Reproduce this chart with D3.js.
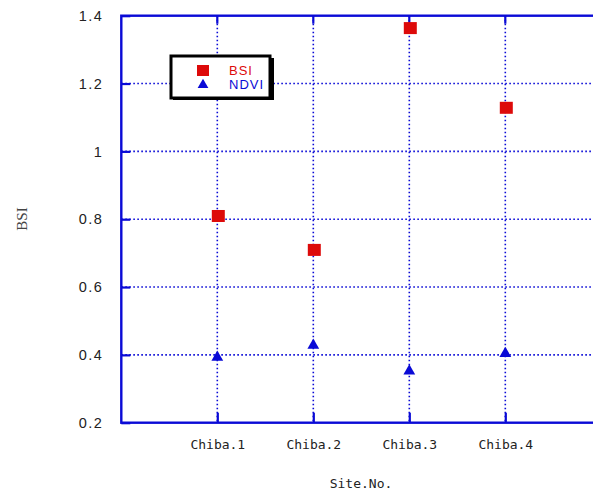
<!DOCTYPE html>
<html><head><meta charset="utf-8">
<script src="https://cdn.jsdelivr.net/npm/d3@7"></script>
<style>body{margin:0;background:#fff}svg{display:block}</style>
</head><body>
<svg id="c" width="593" height="493"></svg>
<script>
const categories = ["Chiba.1","Chiba.2","Chiba.3","Chiba.4"];
const bsiValues  = [0.808, 0.708, 1.362, 1.127];
const ndviValues = [0.393, 0.428, 0.352, 0.404];
const yTicks = [0.2,0.4,0.6,0.8,1,1.2,1.4];
const seriesNames = ["BSI","NDVI"];

const svg = d3.select("#c");
const L=121.3, T=15.7, B=422.7, step=96;
const x = d3.scaleLinear().domain([0,5]).range([L, L+5*step]);
const y = d3.scaleLinear().domain([0.2,1.4]).range([B, T]);
const blue = "#0a0ad6", red = "#dd0a0a";

// grid
const g = svg.append("g");
g.selectAll(".gy").data(yTicks.slice(1,-1)).join("line")
  .attr("x1",L).attr("x2",593).attr("y1",d=>y(d)).attr("y2",d=>y(d))
  .attr("stroke",blue).attr("stroke-width",1.6).attr("stroke-dasharray","1.6,2.4");
g.selectAll(".gx").data(categories).join("line")
  .attr("x1",(d,i)=>x(i+1)).attr("x2",(d,i)=>x(i+1)).attr("y1",T).attr("y2",B)
  .attr("stroke",blue).attr("stroke-width",1.6).attr("stroke-dasharray","1.6,2.4");

// axes
const yAxis = d3.axisLeft(y).tickValues(yTicks).tickSize(-9).tickPadding(14)
  .tickFormat(d=>d===1?"1":d3.format(".1f")(d));
const ya = svg.append("g").attr("transform",`translate(${L},0)`).call(yAxis);
ya.select(".domain").remove();
ya.selectAll(".tick line").attr("stroke",blue).attr("stroke-width",2.2);
ya.selectAll(".tick text").attr("font-family","Liberation Sans, Arial, sans-serif")
  .attr("font-size",14.5).attr("fill","#222").attr("letter-spacing","1.5px").attr("dx",-4);

const xAxis = d3.axisBottom(x).tickValues([1,2,3,4]).tickSize(-10).tickPadding(10)
  .tickFormat(d=>categories[d-1]);
const xa = svg.append("g").attr("transform",`translate(0,${B})`).call(xAxis);
xa.select(".domain").remove();
xa.selectAll(".tick line").attr("stroke",blue).attr("stroke-width",2.2);
xa.selectAll(".tick text").attr("font-family","DejaVu Sans Mono, monospace")
  .attr("font-size",13).attr("fill","#222").attr("dy","1.25em");

// top ticks
svg.selectAll(".tt").data([1,2,3,4]).join("line")
  .attr("x1",d=>x(d)).attr("x2",d=>x(d)).attr("y1",T).attr("y2",T+8)
  .attr("stroke",blue).attr("stroke-width",2.2);

// frame
svg.append("rect").attr("x",L).attr("y",T).attr("width",5*step).attr("height",B-T)
  .attr("fill","none").attr("stroke",blue).attr("stroke-width",2.4);

// markers
const sq=13;
svg.selectAll(".bsi").data(bsiValues).join("rect")
  .attr("x",(d,i)=>x(i+1)-sq/2+1).attr("y",d=>y(d)-sq/2).attr("width",sq).attr("height",sq-1)
  .attr("fill",red);
const tri = d3.symbol().type(d3.symbolTriangle).size(60);
svg.selectAll(".ndvi").data(ndviValues).join("path")
  .attr("d",tri).attr("transform",(d,i)=>`translate(${x(i+1)},${y(d)})`).attr("fill",blue);

// legend
const lg = svg.append("g");
lg.append("rect").attr("x",173).attr("y",58).attr("width",101).attr("height",42).attr("fill","#000");
lg.append("rect").attr("x",171).attr("y",56).attr("width",99).attr("height",42)
  .attr("fill","#fff").attr("stroke","#000").attr("stroke-width",3);
lg.append("rect").attr("x",197).attr("y",65).attr("width",12).attr("height",11).attr("fill",red);
lg.append("path").attr("d",d3.symbol().type(d3.symbolTriangle).size(50))
  .attr("transform","translate(203,85)").attr("fill",blue);
lg.selectAll("text").data(seriesNames).join("text")
  .attr("x",229).attr("y",(d,i)=>75+i*14).text(d=>d)
  .attr("font-family","Liberation Sans, Arial, sans-serif").attr("font-size",13)
  .attr("letter-spacing","1px")
  .attr("fill",(d,i)=>i===0?red:blue);

// axis titles
svg.append("text").attr("x",361).attr("y",488).attr("text-anchor","middle")
  .attr("font-family","DejaVu Sans Mono, monospace").attr("font-size",13).attr("fill","#222")
  .text("Site.No.");
svg.append("text").attr("transform","translate(27,219) rotate(-90)").attr("text-anchor","middle")
  .attr("font-family","Liberation Serif, serif").attr("font-size",15).attr("fill","#444")
  .text("BSI");
</script>
</body></html>
